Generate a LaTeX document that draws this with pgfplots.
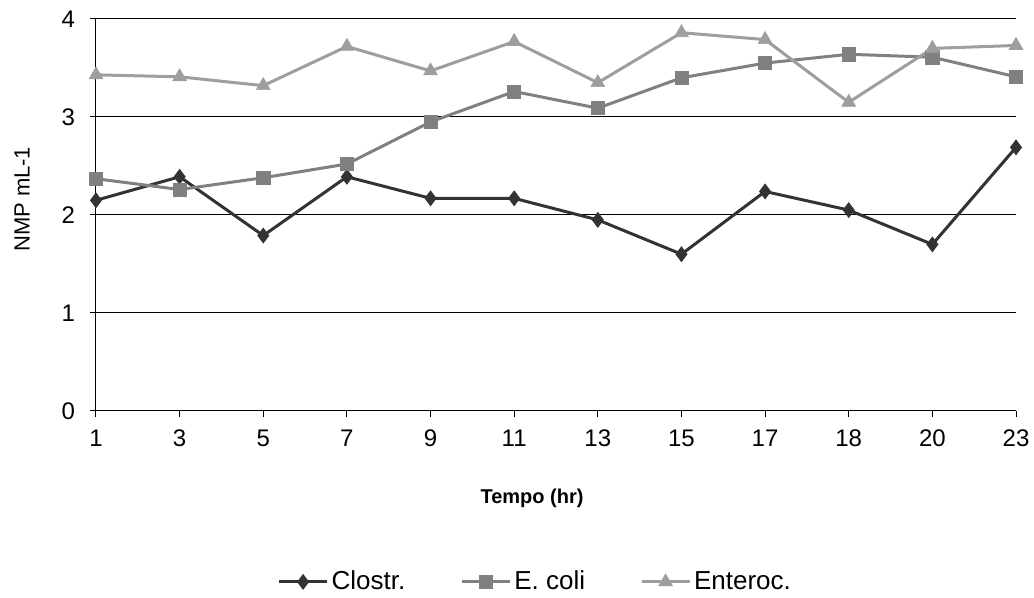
\documentclass[border=0pt]{standalone}
\usepackage{fontspec}
\setmainfont{Liberation Sans}
\usepackage{pgfplots}
\pgfplotsset{compat=1.18}
\begin{document}
\begin{tikzpicture}
\path[use as bounding box] (-48pt,-93.5pt) rectangle (469pt,205.5pt);
\begin{axis}[
  at={(0pt,0pt)}, anchor=origin,
  scale only axis, width=460pt, height=196pt,
  xmin=0, xmax=11, ymin=0, ymax=4,
  xtick={0,...,11},
  xticklabels={1,3,5,7,9,11,13,15,17,18,20,23},
  ytick={0,1,2,3,4},
  /pgf/number format/assume math mode=true,
  ticklabel style={font=\fontsize{12}{13}\selectfont},
  xticklabel style={yshift=-3pt},
  yticklabel style={xshift=-4pt},
  axis x line*=bottom, axis y line*=left,
  axis line style={black, line width=0.5pt, -},
  tick style={black, line width=0.5pt},
  tick align=outside, major tick length=3pt,
  ymajorgrids, grid style={black, line width=0.5pt},
  xlabel={\textbf{Tempo (hr)}},
  xlabel style={font=\fontsize{10}{11}\selectfont, at={(axis description cs:0.474,-0.222)}, anchor=center},
  ylabel={NMP mL-1},
  ylabel style={font=\fontsize{11}{12}\selectfont, at={(axis description cs:-0.0804,0.54)}, anchor=center},
  clip=false,
  legend columns=3,
  legend style={draw=none, fill=none, at={(axis description cs:0.478,-0.436)}, anchor=center,
    font=\fontsize{13}{14}\selectfont, inner sep=0pt,
    /tikz/every even column/.append style={column sep=26pt},
    /tikz/every odd column/.append style={column sep=0pt},
    nodes={inner sep=1.5pt}},
  legend image code/.code={\draw[#1] (0pt,0pt) -- (24pt,0pt); \draw[#1] plot coordinates {(12pt,0pt)};},
]
\addplot[color={rgb,255:red,51;green,51;blue,51}, line width=1.5pt, mark=diamond*, mark size=3.6pt, mark options={solid, line width=0.5pt}] coordinates {
(0,2.15) (1,2.39) (2,1.79) (3,2.39) (4,2.17) (5,2.17) (6,1.95) (7,1.60) (8,2.24) (9,2.05) (10,1.70) (11,2.69)};
\addlegendentry{Clostr.}
\addplot[color={rgb,255:red,128;green,128;blue,128}, line width=1.5pt, mark=square*, mark size=3.3pt, mark options={solid, line width=0.3pt}] coordinates {
(0,2.37) (1,2.26) (2,2.38) (3,2.52) (4,2.95) (5,3.26) (6,3.09) (7,3.40) (8,3.55) (9,3.64) (10,3.61) (11,3.41)};
\addlegendentry{E. coli}
\addplot[color={rgb,255:red,158;green,158;blue,158}, line width=1.5pt, mark=triangle*, mark size=4pt, mark options={solid, line width=0.3pt}] coordinates {
(0,3.43) (1,3.41) (2,3.32) (3,3.72) (4,3.47) (5,3.77) (6,3.35) (7,3.86) (8,3.79) (9,3.15) (10,3.70) (11,3.73)};
\addlegendentry{Enteroc.}
\end{axis}
\end{tikzpicture}
\end{document}
